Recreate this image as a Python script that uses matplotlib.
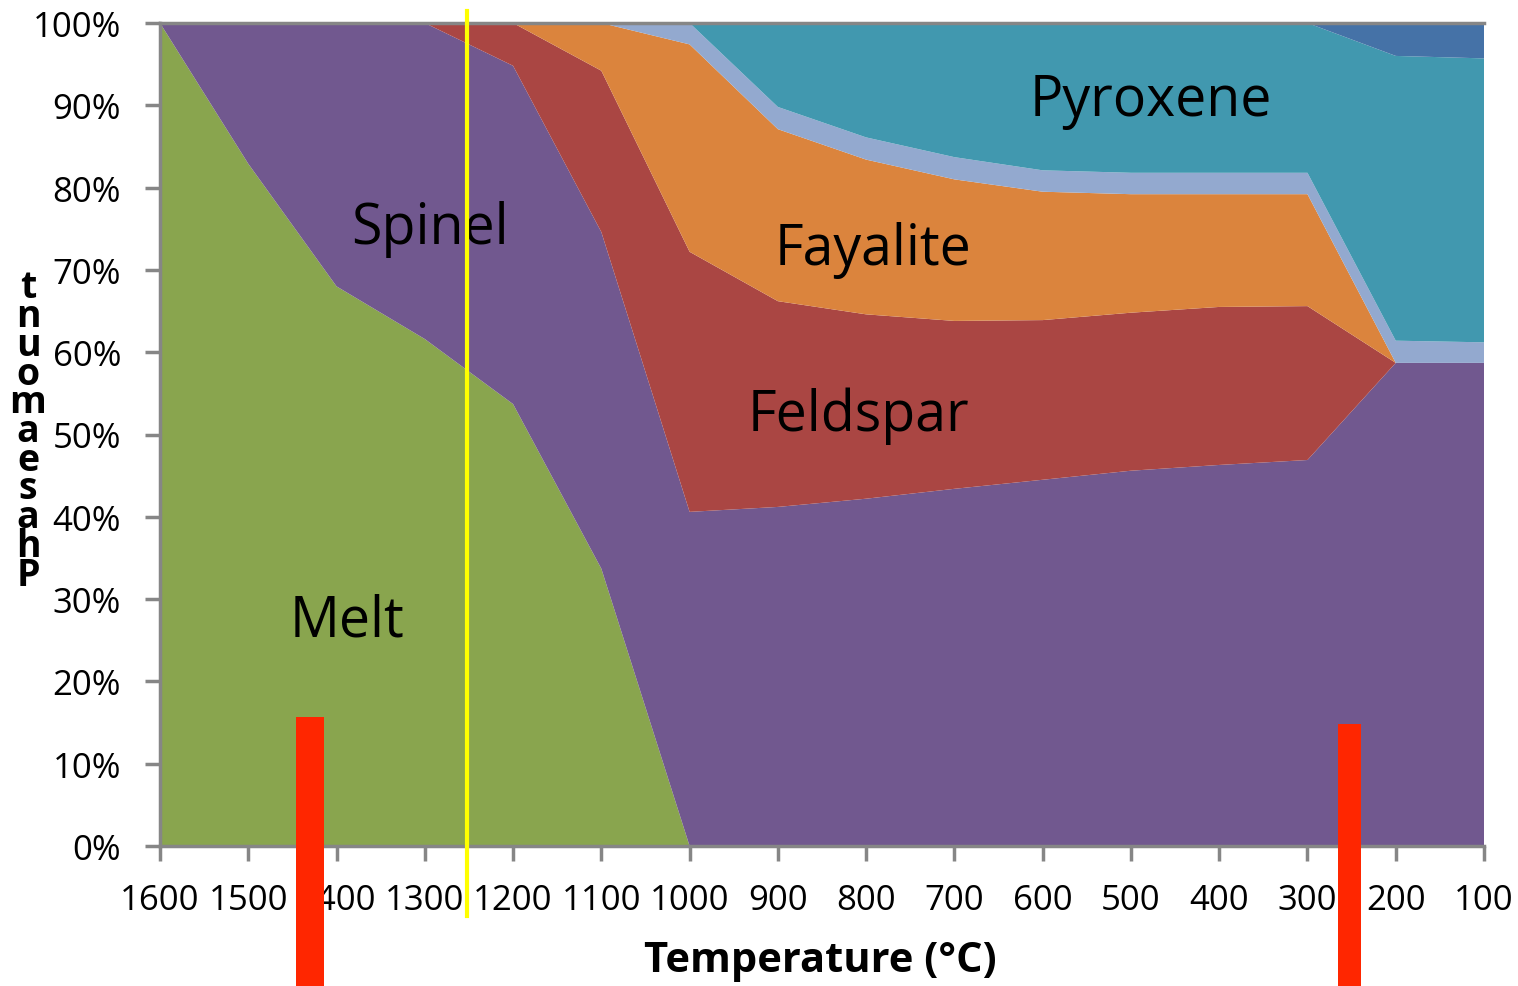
import matplotlib
matplotlib.use("Agg")
import matplotlib.pyplot as plt
import numpy as np

plt.rcParams['font.family'] = ['Open Sans', 'DejaVu Sans']

temps = [1600, 1500, 1400, 1300, 1200, 1100, 1000, 900, 800, 700, 600, 500, 400, 300, 200, 100]
melt      = [100, 82.9, 68.0, 61.6, 53.7, 33.7, 0, 0, 0, 0, 0, 0, 0, 0, 0, 0]
spinel    = [0, 17.1, 32.0, 38.4, 41.1, 40.9, 40.6, 41.2, 42.2, 43.4, 44.5, 45.6, 46.3, 46.9, 58.7, 58.7]
feldspar  = [0, 0, 0, 0, 5.2, 19.6, 31.6, 25.0, 22.4, 20.4, 19.4, 19.2, 19.2, 18.7, 0, 0]
fayalite  = [0, 0, 0, 0, 0, 5.8, 25.2, 20.9, 18.8, 17.2, 15.6, 14.4, 13.7, 13.6, 0, 0]
minor     = [0, 0, 0, 0, 0, 0, 2.6, 2.7, 2.7, 2.7, 2.6, 2.6, 2.6, 2.6, 2.7, 2.5]
pyroxene  = [0, 0, 0, 0, 0, 0, 0, 10.2, 13.9, 16.3, 17.9, 18.2, 18.2, 18.2, 34.6, 34.5]
other     = [0, 0, 0, 0, 0, 0, 0, 0, 0, 0, 0, 0, 0, 0, 4.0, 4.3]

series = [melt, spinel, feldspar, fayalite, minor, pyroxene, other]
colors = ['#89A54E', '#71588F', '#AA4643', '#DB843D', '#93A9CF', '#4198AF', '#4572A7']

labels = ['Melt', 'Spinel', 'Feldspar', 'Fayalite', 'Pyroxene']
label_pos = [(1388, 27.3), (1294, 75.0), (809, 52.3), (792, 72.5), (477, 90.6)]

xtick_vals = list(range(1600, 0, -100))
ytick_vals = list(range(0, 101, 10))

fig = plt.figure(figsize=(15.18, 9.87), dpi=100)
ax = fig.add_axes([160/1518, 140/987, (1484-160)/1518, (847-24)/987])

ax.stackplot(temps, *series, colors=colors, linewidth=0)

ax.set_xlim(1600, 100)
ax.set_ylim(0, 100)
ax.set_xticks(xtick_vals)
ax.set_xticklabels([str(v) for v in xtick_vals], fontsize=25)
ax.set_yticks(ytick_vals)
ax.set_yticklabels([f"{v}%" for v in ytick_vals], fontsize=25)
ax.tick_params(axis='both', direction='out', color='#868686', width=2.5, length=11)
ax.tick_params(axis='x', pad=16)
ax.tick_params(axis='y', pad=17)
for s in ['left', 'bottom', 'top']:
    ax.spines[s].set_color('#868686')
    ax.spines[s].set_linewidth(2.5)
ax.spines['right'].set_visible(False)

for txt, (x, y) in zip(labels, label_pos):
    ax.text(x, y, txt, fontsize=40, ha='center', va='center', color='black')

fig.text(820/1518, 1 - 962/987, 'Temperature (°C)', fontsize=30, fontweight='bold',
         ha='center', va='center')

# stacked vertical y label
ylab = "\n".join(list("tnuoma") + list("esahP"))
fig.text(28/1518, 1 - 432/987, ylab, fontsize=27, fontweight='bold', ha='center', va='center',
         linespacing=0.68)

# overlays
ax.plot([1252, 1252], [-8.5, 101.5], color='#FFFF00', lw=3, clip_on=False, zorder=5)
ax.bar([1430], [15.7 + 17.2], bottom=-17.2, width=32, color='#FF2600', clip_on=False, zorder=6)
ax.bar([252], [14.8 + 17.2], bottom=-17.2, width=26, color='#FF2600', clip_on=False, zorder=6)

fig.savefig('out.png', dpi=100)
